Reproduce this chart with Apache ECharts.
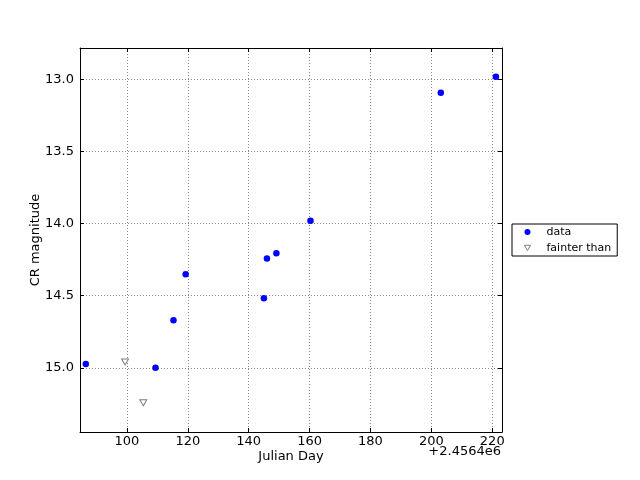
<!DOCTYPE html>
<html>
<head>
<meta charset="utf-8">
<script src="https://cdn.jsdelivr.net/npm/echarts@6/dist/echarts.min.js"></script>
<style>html,body{margin:0;padding:0;background:#fff;}#c{width:640px;height:480px;}</style>
</head>
<body>
<div id="c"></div>
<script>
// x values are Julian Day minus 2456400
const dataX = [86.5, 109.4, 115.3, 119.3, 145.0, 146.0, 149.1, 160.3, 203.1, 221.2];
const dataY = [14.974, 15.0, 14.67, 14.351, 14.517, 14.243, 14.206, 13.981, 13.093, 12.982];
const fainterX = [99.4, 105.4];
const fainterY = [14.96, 15.242];
const xTicks = [100, 120, 140, 160, 180, 200, 220];
const yTicks = [13.0, 13.5, 14.0, 14.5, 15.0];
const xOffsetText = '+2.4564e6';

const FONT = 'DejaVu Sans';
const xRange = {min: 84.6, max: 223.2};
const yRange = {min: 12.783, max: 15.445};
const gridLine = {show: true, lineStyle: {color: '#888', type: [1, 2], width: 1}};
const axLine = {show: true, onZero: false, lineStyle: {color: '#000', width: 1}};
const tick = (vals) => ({show: true, inside: true, length: 4, customValues: vals, lineStyle: {color: '#000'}});
const triPath = 'path://M0,0 L10,0 L5,9 Z';

const chart = echarts.init(document.getElementById('c'), null, {renderer: 'canvas'});
chart.setOption({
  animation: false,
  backgroundColor: '#fff',
  grid: {left: 80, top: 48, width: 422, height: 384, containLabel: false},
  xAxis: [{
    type: 'value', position: 'bottom', min: xRange.min, max: xRange.max,
    axisLine: axLine, axisTick: tick(xTicks), splitLine: gridLine,
    axisLabel: {customValues: xTicks, color: '#000', fontFamily: FONT, fontSize: 13, margin: 3,
      formatter: v => String(Math.round(v))},
    name: 'Julian Day', nameLocation: 'middle', nameGap: 18, nameMoveOverlap: false,
    nameTextStyle: {color: '#000', fontFamily: FONT, fontSize: 13}
  }, {
    type: 'value', position: 'top', min: xRange.min, max: xRange.max,
    axisLine: axLine, axisTick: tick(xTicks), splitLine: {show: false}, axisLabel: {show: false}
  }],
  yAxis: [{
    type: 'value', position: 'left', inverse: true, min: yRange.min, max: yRange.max,
    axisLine: axLine, axisTick: tick(yTicks), splitLine: gridLine,
    axisLabel: {customValues: yTicks, color: '#000', fontFamily: FONT, fontSize: 13, margin: 6,
      formatter: v => v.toFixed(1)},
    name: 'CR magnitude', nameLocation: 'middle', nameGap: 38, nameRotate: 90, nameMoveOverlap: false,
    nameTextStyle: {color: '#000', fontFamily: FONT, fontSize: 13}
  }, {
    type: 'value', position: 'right', inverse: true, min: yRange.min, max: yRange.max,
    axisLine: axLine, axisTick: tick(yTicks), splitLine: {show: false}, axisLabel: {show: false}
  }],
  legend: {
    left: 512, top: 224, orient: 'vertical',
    padding: [2, 6, 2, 12], itemGap: 4, itemWidth: 6, itemHeight: 6,
    borderColor: '#000', borderWidth: 1, backgroundColor: '#fff',
    textStyle: {color: '#000', fontFamily: FONT, fontSize: 11, lineHeight: 12, padding: [0, 0, 0, 11]},
    data: [
      {name: 'data', icon: 'circle'},
      {name: 'fainter than', icon: triPath, itemStyle: {color: '#fff', borderColor: '#808080', borderWidth: 1}}
    ]
  },
  graphic: [{
    type: 'text', right: 139, top: 445,
    style: {text: xOffsetText, fill: '#000', font: '13px "DejaVu Sans"'}
  }],
  series: [{
    name: 'data', type: 'scatter', symbol: 'circle', symbolSize: 6.5,
    itemStyle: {color: '#0000ff', opacity: 1},
    data: dataX.map((x, i) => [x, dataY[i]])
  }, {
    name: 'fainter than', type: 'scatter', symbol: triPath, symbolSize: [7, 6],
    itemStyle: {color: '#fff', borderColor: '#808080', borderWidth: 1, opacity: 1},
    data: fainterX.map((x, i) => [x, fainterY[i]])
  }]
});
</script>
</body>
</html>
